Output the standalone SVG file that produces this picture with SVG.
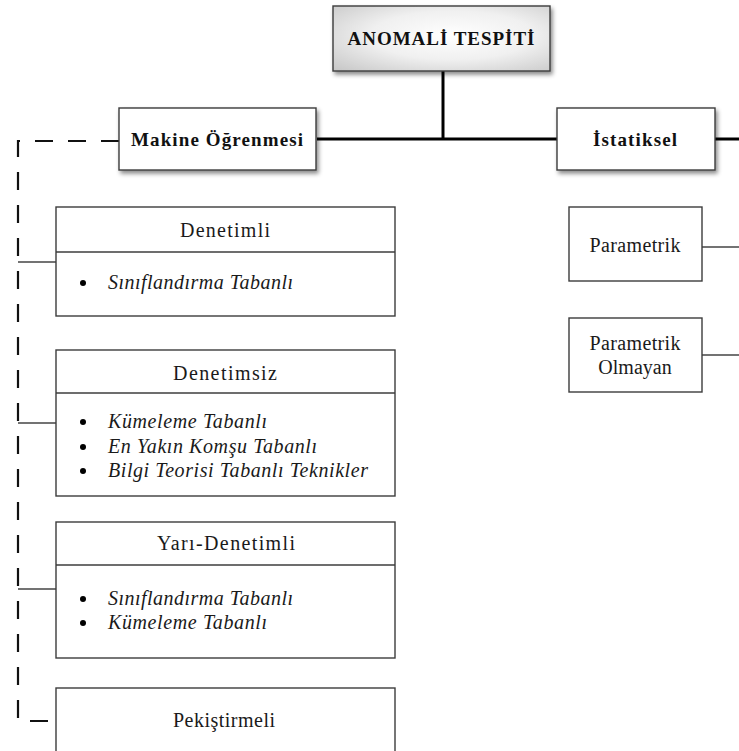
<svg xmlns="http://www.w3.org/2000/svg" width="739" height="751" viewBox="0 0 739 751">
<defs>
<radialGradient id="g1" cx="0.55" cy="0.45" r="0.75">
<stop offset="0" stop-color="#ffffff"/>
<stop offset="0.5" stop-color="#f0f0f0"/>
<stop offset="1" stop-color="#c8c8c8"/>
</radialGradient>
<filter id="sh" x="-10%" y="-10%" width="125%" height="135%">
<feDropShadow dx="2" dy="3" stdDeviation="2" flood-color="#000" flood-opacity="0.45"/>
</filter>
</defs>
<style>
.box{fill:#fff;stroke:#3c3c3c;stroke-width:1.4}
.hb{font-family:"Liberation Serif","Times New Roman",serif;font-weight:bold;fill:#111}
.h{font-family:"Liberation Serif","Times New Roman",serif;font-size:20px;fill:#1a1a1a}
.it{font-family:"Liberation Serif","Times New Roman",serif;font-size:20px;font-style:italic;fill:#1a1a1a}
.thick{stroke:#000;stroke-width:3;fill:none}
.thin{stroke:#444;stroke-width:1.3;fill:none}
.dash{stroke:#111;stroke-width:2.2;fill:none;stroke-dasharray:18 15}
.dot{fill:#000}
</style>
<g id="connectors">
<line class="thick" x1="443" y1="71" x2="443" y2="139"/>
<line class="thick" x1="317" y1="139" x2="557" y2="139"/>
<line class="thick" x1="715" y1="139" x2="739" y2="139"/>
<line class="thin" x1="702" y1="247" x2="739" y2="247"/>
<line class="thin" x1="702" y1="355" x2="739" y2="355"/>
<path class="dash" d="M119 141 H18 V721 H56"/>
<line class="thin" x1="18" y1="262" x2="56" y2="262"/>
<line class="thin" x1="18" y1="423" x2="56" y2="423"/>
<line class="thin" x1="18" y1="589" x2="56" y2="589"/>
</g>
<g id="anomali">
<rect x="333" y="6" width="217" height="65" fill="url(#g1)" stroke="#3c3c3c" stroke-width="1.4" filter="url(#sh)"/>
<text class="hb" x="441" y="45" font-size="19" text-anchor="middle" textLength="187" lengthAdjust="spacing">ANOMALİ TESPİTİ</text>
</g>
<g id="makine">
<rect class="box" x="119" y="108" width="197" height="62" filter="url(#sh)"/>
<text class="hb" x="217" y="146" font-size="19" text-anchor="middle" textLength="172" lengthAdjust="spacing">Makine Öğrenmesi</text>
</g>
<g id="istatiksel">
<rect class="box" x="557" y="108" width="158" height="62" filter="url(#sh)"/>
<text class="hb" x="635" y="146" font-size="19" text-anchor="middle" textLength="84" lengthAdjust="spacing">İstatiksel</text>
</g>
<g id="parametrik">
<rect class="box" x="569" y="207" width="133" height="74"/>
<text class="h" x="635" y="252" text-anchor="middle" textLength="91" lengthAdjust="spacing">Parametrik</text>
</g>
<g id="parametrik-olmayan">
<rect class="box" x="569" y="318" width="133" height="74"/>
<text class="h" x="635" y="350" text-anchor="middle" textLength="91" lengthAdjust="spacing">Parametrik</text>
<text class="h" x="635" y="374" text-anchor="middle">Olmayan</text>
</g>
<g id="denetimli">
<rect class="box" x="56" y="207" width="339" height="109"/>
<line class="box" x1="56" y1="252" x2="395" y2="252"/>
<text class="h" x="225" y="237" text-anchor="middle" textLength="90" lengthAdjust="spacing">Denetimli</text>
<circle class="dot" cx="83" cy="283" r="3"/>
<text class="it" x="108" y="289" textLength="185" lengthAdjust="spacing">Sınıflandırma Tabanlı</text>
</g>
<g id="denetimsiz">
<rect class="box" x="56" y="350" width="339" height="146"/>
<line class="box" x1="56" y1="393" x2="395" y2="393"/>
<text class="h" x="225" y="380" text-anchor="middle" textLength="104" lengthAdjust="spacing">Denetimsiz</text>
<circle class="dot" cx="83" cy="422" r="3"/>
<text class="it" x="108" y="428" textLength="159" lengthAdjust="spacing">Kümeleme Tabanlı</text>
<circle class="dot" cx="83" cy="447" r="3"/>
<text class="it" x="108" y="453" textLength="209" lengthAdjust="spacing">En Yakın Komşu Tabanlı</text>
<circle class="dot" cx="83" cy="471" r="3"/>
<text class="it" x="108" y="477" textLength="260" lengthAdjust="spacing">Bilgi Teorisi Tabanlı Teknikler</text>
</g>
<g id="yari-denetimli">
<rect class="box" x="56" y="522" width="339" height="136"/>
<line class="box" x1="56" y1="565" x2="395" y2="565"/>
<text class="h" x="226" y="550" text-anchor="middle" textLength="138" lengthAdjust="spacing">Yarı-Denetimli</text>
<circle class="dot" cx="83" cy="599" r="3"/>
<text class="it" x="108" y="605" textLength="185" lengthAdjust="spacing">Sınıflandırma Tabanlı</text>
<circle class="dot" cx="83" cy="623" r="3"/>
<text class="it" x="108" y="629" textLength="159" lengthAdjust="spacing">Kümeleme Tabanlı</text>
</g>
<g id="pekistirmeli">
<rect class="box" x="56" y="688" width="339" height="80"/>
<text class="h" x="224" y="727" text-anchor="middle" textLength="102" lengthAdjust="spacing">Pekiştirmeli</text>
</g>
</svg>
